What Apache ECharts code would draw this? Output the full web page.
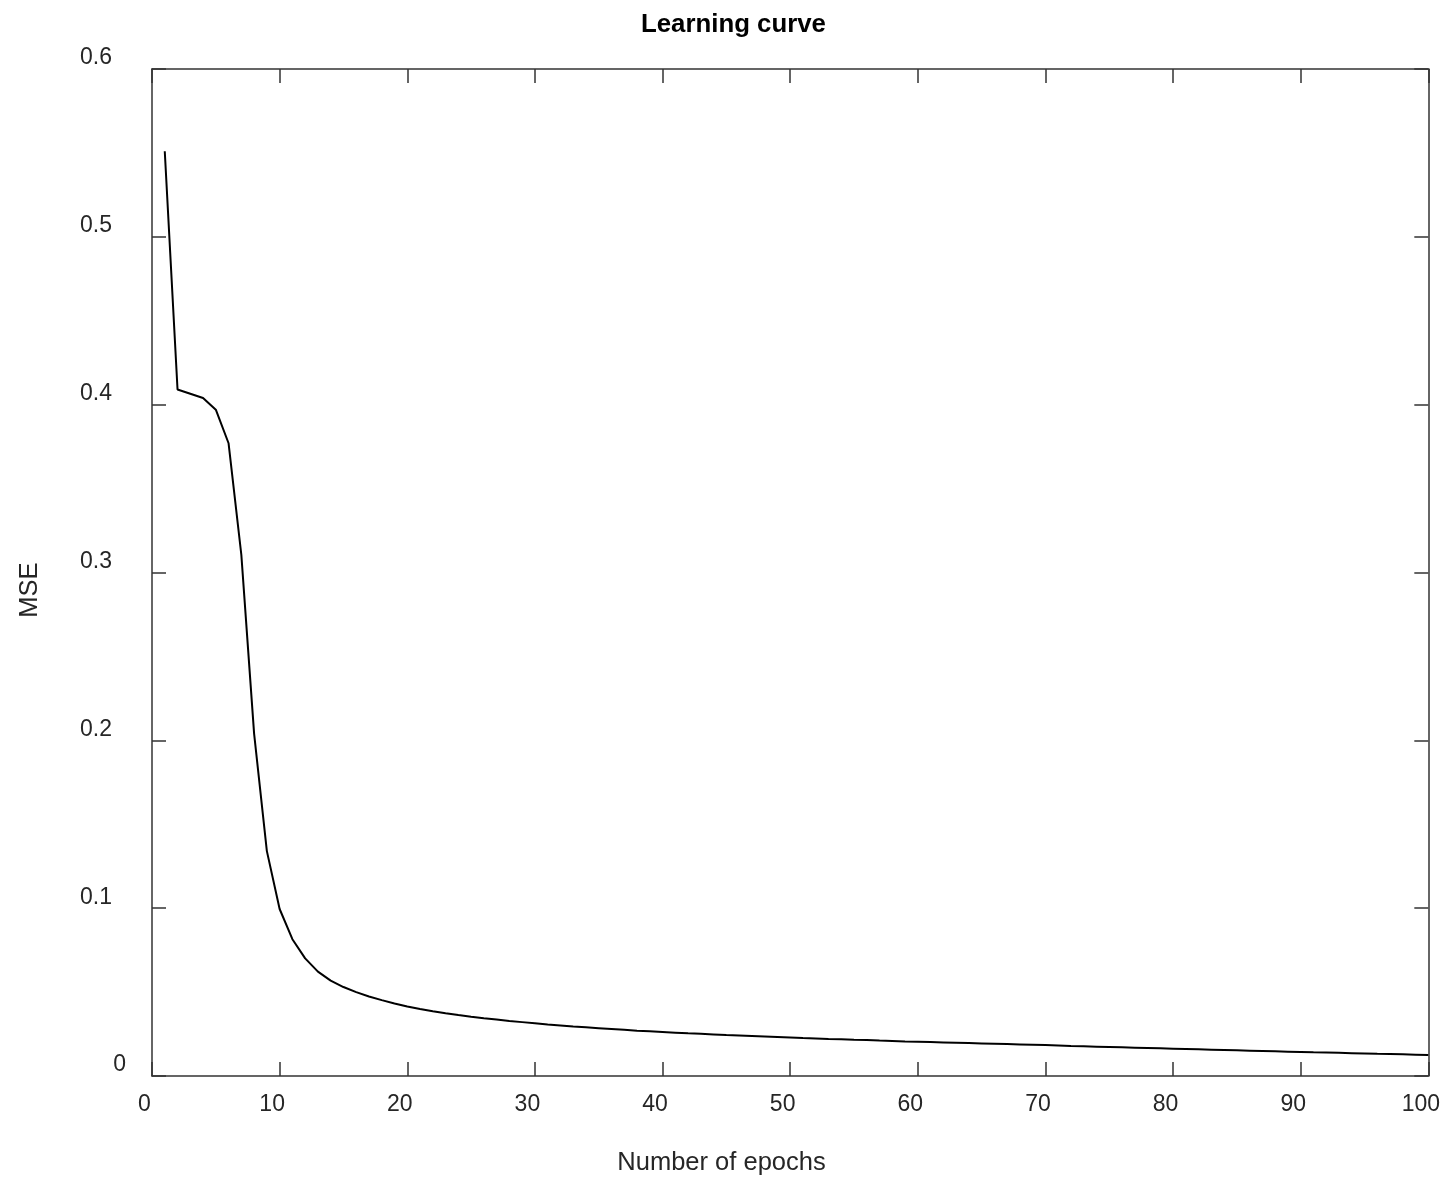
<!DOCTYPE html>
<html>
<head>
<meta charset="utf-8">
<script src="https://cdn.jsdelivr.net/npm/echarts@6/dist/echarts.min.js"></script>
<style>
  html, body { margin: 0; padding: 0; background: #fff; }
  #chart { width: 1443px; height: 1178px; }
</style>
</head>
<body>
<div id="chart"></div>
<script>
// MSE per epoch (epochs 1..100)
const mse = [
  0.551, 0.409, 0.4065, 0.404, 0.397, 0.377, 0.3105, 0.204, 0.134, 0.0995,
  0.0815, 0.0701, 0.0622, 0.0568, 0.0530, 0.0500, 0.0474, 0.0452, 0.0432, 0.0414,
  0.0399, 0.0386, 0.0374, 0.0363, 0.0353, 0.0344, 0.0336, 0.0328, 0.0321, 0.0314,
  0.0307, 0.0301, 0.0295, 0.0290, 0.0285, 0.0280, 0.0275, 0.0270, 0.0266, 0.0262,
  0.0258, 0.0254, 0.0251, 0.0248, 0.0244, 0.0241, 0.0238, 0.0235, 0.0232, 0.0229,
  0.0226, 0.0224, 0.0221, 0.0219, 0.0216, 0.0214, 0.0211, 0.0209, 0.0206, 0.0204,
  0.0202, 0.0200, 0.0198, 0.0196, 0.0194, 0.0192, 0.0190, 0.0188, 0.0186, 0.0184,
  0.0182, 0.0179, 0.0177, 0.0175, 0.0173, 0.0171, 0.0169, 0.0167, 0.0165, 0.0163,
  0.0161, 0.0159, 0.0157, 0.0155, 0.0153, 0.0151, 0.0149, 0.0147, 0.0145, 0.0143,
  0.0141, 0.0140, 0.0138, 0.0136, 0.0134, 0.0132, 0.0131, 0.0129, 0.0127, 0.0125
];
const epochs = mse.map((_, i) => i + 1);

const titleText = 'Learning curve';
const xName = 'Number of epochs';
const yName = 'MSE';

const font = 'Liberation Sans, Arial, Helvetica, sans-serif';
const axisColor = '#333';
const textColor = '#262626';
const tickFont = 23;

const chart = echarts.init(document.getElementById('chart'));

const lineStyle = { color: axisColor, width: 1.5 };
const tick = { show: true, inside: true, length: 14, lineStyle };

const xBase = { type: 'value', min: 0, max: 100, interval: 10, splitLine: { show: false },
  axisLine: { show: true, onZero: false, lineStyle }, axisTick: tick };
const yBase = { type: 'value', min: 0, max: 0.6, interval: 0.1, splitLine: { show: false },
  axisLine: { show: true, onZero: false, lineStyle }, axisTick: tick };

chart.setOption({
  animation: false,
  backgroundColor: '#fff',
  title: [
    { text: titleText, left: 636, top: 7,
      textStyle: { fontFamily: font, fontSize: 25.8, fontWeight: 'bold', color: '#000' } },
    { text: xName, left: 'center', top: 1145,
      textStyle: { fontFamily: font, fontSize: 25.5, fontWeight: 'normal', color: textColor } }
  ],
  graphic: [{
    type: 'text', x: 30, y: 590, rotation: Math.PI / 2,
    style: { text: yName, font: '25.5px ' + font, fill: textColor, align: 'center', verticalAlign: 'middle' }
  }],
  grid: { left: 152, right: 11, top: 69, bottom: 102, containLabel: false },
  xAxis: [
    { ...xBase, position: 'bottom',
      axisLabel: { fontFamily: font, fontSize: tickFont, color: textColor, margin: 17,
        formatter: v => '{a|' + v + '}',
        rich: { a: { fontFamily: font, fontSize: tickFont, color: textColor, padding: [0, 15, 0, 0] } } } },
    { ...xBase, position: 'top', axisLabel: { show: false } }
  ],
  yAxis: [
    { ...yBase, position: 'left',
      axisLabel: { fontFamily: font, fontSize: tickFont, color: textColor, margin: 26,
        formatter: v => v === 0 ? '{z|0}' : '{a|' + v.toFixed(1) + '}',
        rich: {
          a: { fontFamily: font, fontSize: tickFont, color: textColor, padding: [0, 14, 22, 0] },
          z: { fontFamily: font, fontSize: tickFont, color: textColor, padding: [0, 0, 22, 0] }
        } } },
    { ...yBase, position: 'right', axisLabel: { show: false } }
  ],
  series: [{
    type: 'line',
    xAxisIndex: 0, yAxisIndex: 0,
    data: epochs.map((e, i) => [e, mse[i]]),
    showSymbol: false,
    lineStyle: { color: '#000', width: 2 }
  }]
});
</script>
</body>
</html>
